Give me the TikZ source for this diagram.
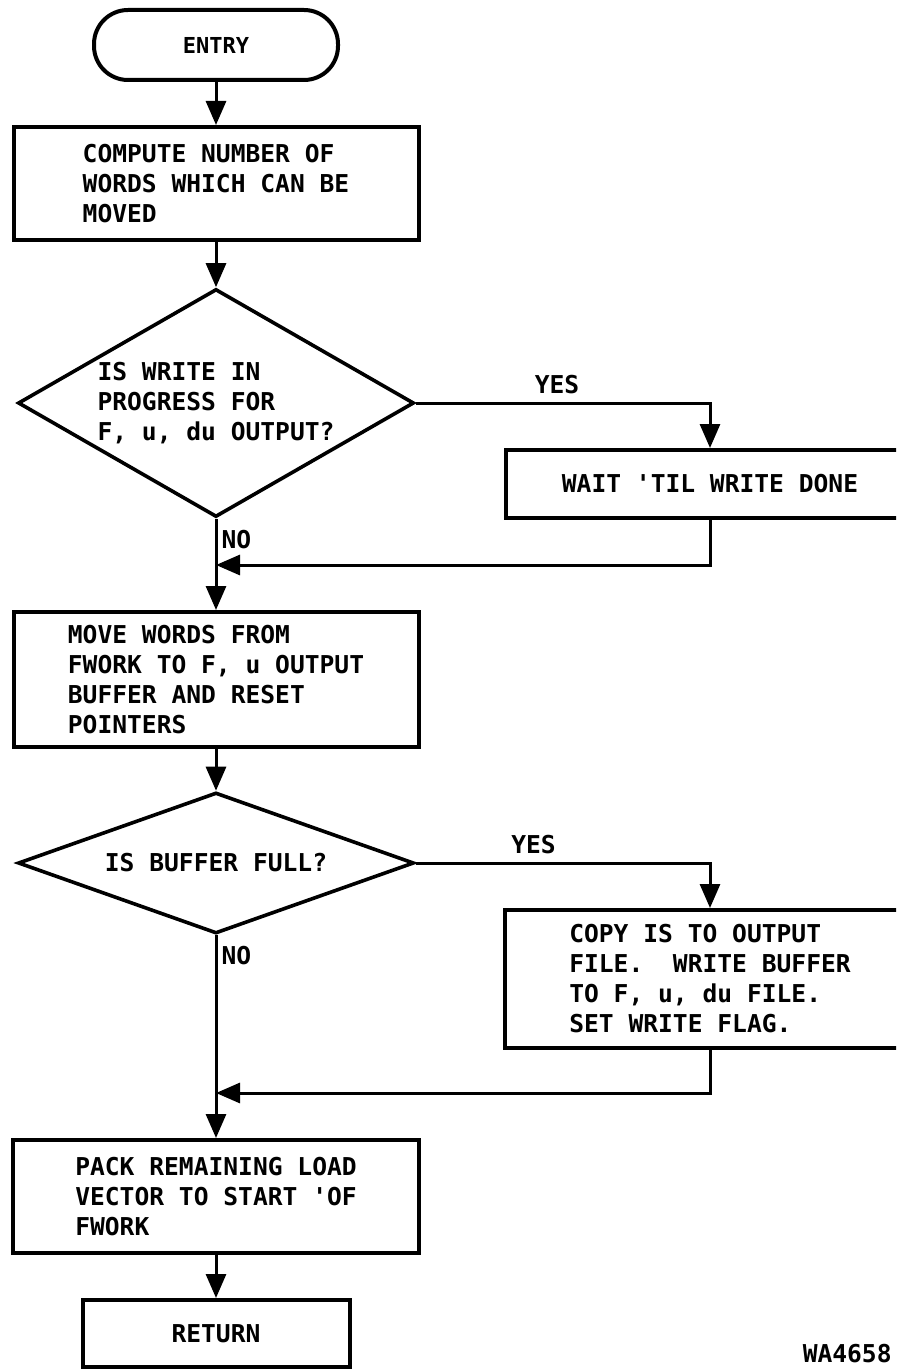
\documentclass[tikz,border=0pt]{standalone}
\usepackage{fontspec}
\setmonofont{DejaVu Sans Mono}
\usetikzlibrary{shapes.geometric,arrows.meta}
\tikzset{
  txt/.style={font=\ttfamily\bfseries\fontsize{12.3}{15}\selectfont},
  box/.style={txt, draw, line width=2pt, align=left, inner sep=0pt},
  term/.style={box, rounded corners=17pt},
  decision/.style={box, diamond, line width=1.8pt},
  flow/.style={line width=1.5pt, -{Triangle[length=12pt,width=10pt]}},
  lbl/.style={txt, inner sep=2pt}
}
\begin{document}
\begin{tikzpicture}[x=0.5pt,y=-0.5pt]
  \useasboundingbox (0,0) rectangle (896,1369);
  \clip (0,0) rectangle (896,1369);
  % main column
  \node[term, minimum width=122pt, minimum height=35pt,
        font=\ttfamily\bfseries\fontsize{11}{13}\selectfont] (entry) at (216,45) {ENTRY};
  \node[box, minimum width=202.5pt, minimum height=56.5pt] (compute) at (216,183.5)
    {COMPUTE NUMBER OF\\WORDS WHICH CAN BE\\MOVED};
  \node[decision, aspect=1.74, minimum width=198pt, minimum height=114pt] (test1) at (216,403)
    {IS WRITE IN\\PROGRESS FOR\\F, u, du OUTPUT?};
  \node[box, minimum width=202.5pt, minimum height=67.5pt] (move) at (216,679.5)
    {MOVE WORDS FROM\\FWORK TO F, u OUTPUT\\BUFFER AND RESET\\POINTERS};
  \node[decision, aspect=2.8, minimum width=198pt, minimum height=70.5pt] (test2) at (216,863)
    {IS BUFFER FULL?};
  \node[box, minimum width=203pt, minimum height=56.5pt] (pack) at (216,1196.5)
    {PACK REMAINING LOAD\\VECTOR TO START 'OF\\FWORK};
  \node[box, minimum width=133.5pt, minimum height=33.5pt] (ret) at (216,1333.5) {RETURN};
  % right branch
  \node[box, minimum width=204pt, minimum height=34pt] (wait) at (710,484) {WAIT 'TIL WRITE DONE};
  \node[box, minimum width=205pt, minimum height=69pt] (copy) at (710,979)
    {COPY IS TO OUTPUT\\FILE.~ WRITE BUFFER\\TO F, u, du FILE.\\SET WRITE FLAG.};
  \node[lbl, anchor=east, inner sep=1pt] (code) at (894,1354) {WA4658};
  \coordinate (join1) at (216,565);
  \coordinate (join2) at (216,1093);
  % connectors
  \draw[flow] (entry) -- (compute);
  \draw[flow] (compute) -- (test1);
  \draw[flow] (test1.east) -| (wait.north) node[lbl, pos=0.24, above, inner sep=4pt] {YES};
  \draw[flow] (test1.south) -- (move.north) node[lbl, pos=0.23, anchor=west] {NO};
  \draw[flow] (wait.south) |- (join1);
  \draw[flow] (move) -- (test2);
  \draw[flow] (test2.east) -| (copy.north) node[lbl, pos=0.2, above, inner sep=4pt] {YES};
  \draw[flow] (test2.south) -- (pack.north) node[lbl, pos=0.1, anchor=west] {NO};
  \draw[flow] (copy.south) |- (join2);
  \draw[flow] (pack) -- (ret);
\end{tikzpicture}
\end{document}
